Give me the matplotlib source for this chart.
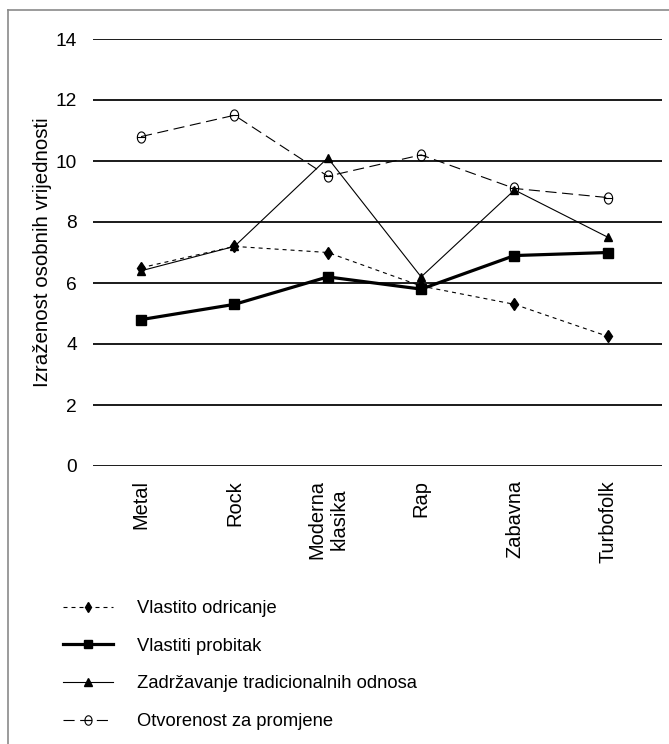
import matplotlib
matplotlib.use("Agg")
import numpy as np
import matplotlib.pyplot as plt
from matplotlib.lines import Line2D
from matplotlib.path import Path

# Data
genres = ["Metal", "Rock", "Moderna\nklasika", "Rap", "Zabavna", "Turbofolk"]
odricanje = [6.5, 7.2, 7.0, 5.9, 5.3, 4.25]
probitak = [4.8, 5.3, 6.2, 5.8, 6.9, 7.0]
zadrzavanje = [6.4, 7.2, 10.1, 6.2, 9.05, 7.5]
otvorenost = [10.8, 11.5, 9.5, 10.2, 9.1, 8.8]
series_names = [
    "Vlastito odricanje",
    "Vlastiti probitak",
    "Zadržavanje tradicionalnih odnosa",
    "Otvorenost za promjene",
]
y_ticks = [0, 2, 4, 6, 8, 10, 12, 14]

font = ["Liberation Sans", "DejaVu Sans"]

# open oval with a horizontal bar (theta-like marker)
t = np.linspace(0, 2 * np.pi, 40)
oval = Path(np.column_stack([0.75 * np.cos(t), np.sin(t)]), closed=True)
bar = Path([(-0.75, 0), (0.75, 0)], [Path.MOVETO, Path.LINETO])
theta_marker = Path.make_compound_path(oval, bar)

fig = plt.figure(figsize=(6.69, 7.44), dpi=100)
ax = fig.add_axes([93 / 669, 1 - 466 / 744, (662 - 93) / 669, (466 - 39) / 744])

x = list(range(len(genres)))

# horizontal grid lines
for yv in y_ticks:
    ax.axhline(yv, color="#1a1a1a", lw=1.4, zorder=1)

ax.plot(x, odricanje, color="black", lw=0.8, dashes=(3.6, 3.6),
        marker="d", ms=6, zorder=3, label=series_names[0])
ax.plot(x, probitak, color="black", lw=2.3,
        marker="s", ms=7, zorder=3, label=series_names[1])
ax.plot(x, zadrzavanje, color="black", lw=0.8,
        marker="^", ms=6, zorder=3, label=series_names[2])
ax.plot(x, otvorenost, color="black", lw=0.8, dashes=(10, 5),
        marker=theta_marker, ms=8, mfc="none", mec="black", mew=0.8,
        zorder=3, label=series_names[3])

ax.set_xlim(-0.515, 5.58)
ax.set_ylim(0, 14)
ax.set_yticks(y_ticks)
ax.set_xticks(x)
ax.set_xticklabels(genres, rotation=90, family=font, fontsize=14.4,
                   multialignment="center")
ax.set_yticklabels([str(v) for v in y_ticks], family=font, fontsize=13.8)
ax.tick_params(axis="both", length=0)
ax.tick_params(axis="y", pad=11.5)
ax.tick_params(axis="x", pad=10)
for s in ax.spines.values():
    s.set_visible(False)
ax.set_facecolor("none")

ax.set_ylabel("Izraženost osobnih vrijednosti", family=font, fontsize=14.8)
ax.yaxis.set_label_coords(-0.072, 0.5)
ax.yaxis.label.set_va("bottom")

# legend below the plot
handles, labels = ax.get_legend_handles_labels()
fig.legend(handles, labels, loc="upper left",
           bbox_to_anchor=(63 / 669, 1 - 600 / 744),
           frameon=False, prop={"family": font, "size": 13.2},
           handlelength=2.73, handletextpad=1.3, labelspacing=1.13,
           borderpad=0, borderaxespad=0, markerscale=0.85)

# grey frame at top and left
fig.add_artist(Line2D([8 / 669, 1], [1 - 10 / 744, 1 - 10 / 744],
                      transform=fig.transFigure, color="#8a8a8a", lw=1.2))
fig.add_artist(Line2D([8 / 669, 8 / 669], [0, 1 - 10 / 744],
                      transform=fig.transFigure, color="#8a8a8a", lw=1.2))

fig.savefig("out.png", dpi=100)
